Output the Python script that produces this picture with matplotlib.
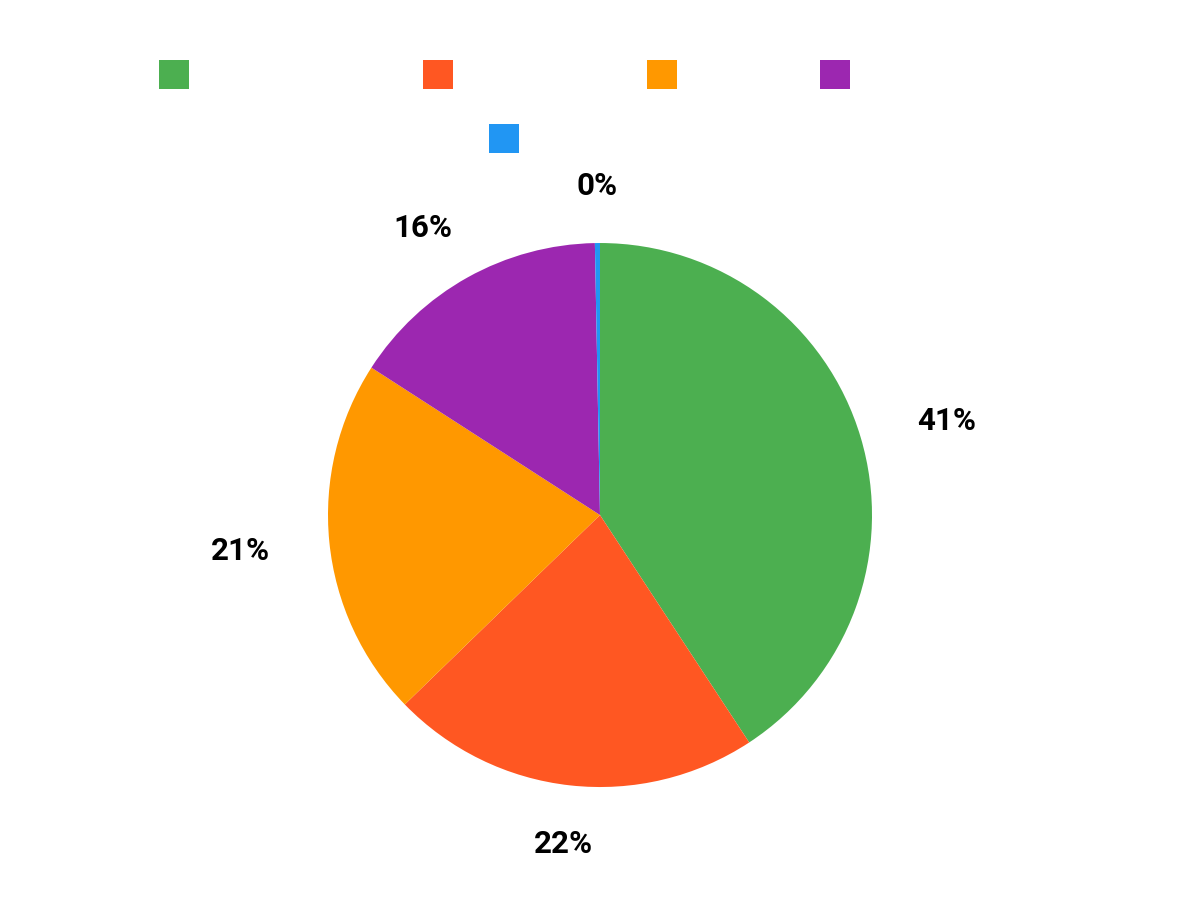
import matplotlib
matplotlib.use("Agg")
import matplotlib.pyplot as plt
from matplotlib.patches import Patch
import numpy as np

# slice shares (percent), read clockwise from 12 o'clock
categories = ["Completely satisfied.", "Mostly satisfied.", "Undecided",
              "Mostly dissatisfied", "Did not respond here"]
values = [40.8, 22.0, 21.4, 15.6, 0.3]
colors = ["#4CAF50", "#FF5722", "#FF9800", "#9C27B0", "#2196F3"]

plt.rcParams["font.family"] = ["Roboto", "DejaVu Sans"]

fig = plt.figure(figsize=(12, 9), dpi=100)
ax = fig.add_axes([0.16, -0.0256, 0.68, 0.9067])

wedges, texts, autotexts = ax.pie(
    values, colors=colors, startangle=90, counterclock=False,
    autopct=lambda p: f"{p:.0f}%", pctdistance=1.27,
    wedgeprops=dict(linewidth=0),
    textprops=dict(fontsize=22.5, fontweight="bold", color="black"),
)

# outside labels: distance from centre (radii) and small angle nudge (deg)
label_dist = [1.32, 1.215, 1.33, 1.24, 1.21]
label_nudge = [-1.5, 0, 0, 2.5, 0]
for w, t, d, n in zip(wedges, autotexts, label_dist, label_nudge):
    mid = np.deg2rad((w.theta1 + w.theta2) / 2 + n)
    t.set_position((d * np.cos(mid), d * np.sin(mid)))

ax.set_xlim(-1.5, 1.5)
ax.set_ylim(-1.5, 1.5)
ax.set_aspect("equal")
ax.axis("off")

# legend: labels are drawn white in the reference (not visible)
handles = [Patch(facecolor=c, edgecolor="none") for c in colors]
leg1 = fig.legend(handles[:4], categories[:4], loc="center", bbox_to_anchor=(0.494, 0.917),
                  ncol=4, frameon=False, handlelength=1.55, handleheight=1.95,
                  fontsize=14, columnspacing=2.0, handletextpad=0.6)
for t in leg1.get_texts():
    t.set_color("white")
leg2 = fig.legend(handles[4:], categories[4:], loc="center", bbox_to_anchor=(0.5, 0.846),
                  ncol=1, frameon=False, handlelength=1.55, handleheight=1.95,
                  fontsize=14, handletextpad=0.6)
for t in leg2.get_texts():
    t.set_color("white")

fig.savefig("out.png", dpi=100, facecolor="white")
